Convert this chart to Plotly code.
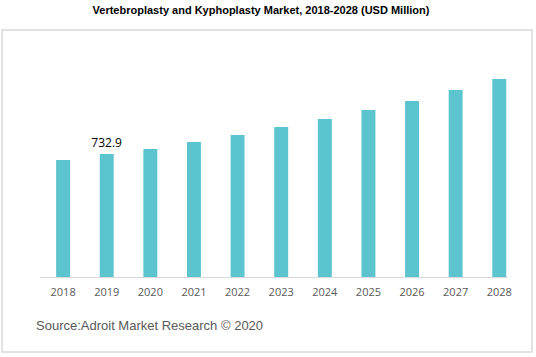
import plotly.graph_objects as go

years = ["2018", "2019", "2020", "2021", "2022", "2023", "2024", "2025", "2026", "2027", "2028"]
values = [697, 732.9, 763, 804, 846, 894, 942, 995, 1049, 1114, 1180]
labels = ["", "732.9", "", "", "", "", "", "", "", "", ""]

W, H = 536, 357
# plot area in pixels
x0, x1 = 40, 508
y0, y1 = 42, 277

fig = go.Figure(go.Bar(
    x=years, y=values, width=0.32,
    marker=dict(color="#5BC4CF", line=dict(width=0)),
    text=labels, textposition="outside", constraintext="none",
    textfont=dict(family="Open Sans, Arial", size=12, color="#000000"),
    cliponaxis=False, hoverinfo="skip",
))

fig.update_layout(
    width=W, height=H,
    margin=dict(l=x0, r=W - x1, t=y0, b=H - y1),
    paper_bgcolor="white", plot_bgcolor="white",
    showlegend=False,
    title=dict(text="<b>Vertebroplasty and Kyphoplasty Market, 2018-2028 (USD Million)</b>",
               x=261 / W, xanchor="center", y=1 - 10 / H, yanchor="middle",
               font=dict(family="Arial, Liberation Sans", size=11, color="#000000")),
    xaxis=dict(type="category", range=[-0.53, 10.2], showline=True, linecolor="#D9D9D9",
               linewidth=1, ticks="", showgrid=False, ticklabelstandoff=5,
               tickfont=dict(family="Open Sans, Arial", size=11, color="#595959")),
    yaxis=dict(range=[0, 1400], visible=False, showgrid=False),
    shapes=[dict(type="rect", xref="paper", yref="paper",
                 x0=(2 - x0) / (x1 - x0), x1=(532 - x0) / (x1 - x0),
                 y0=(y1 - 352) / (y1 - y0), y1=(y1 - 30) / (y1 - y0),
                 line=dict(color="#D9D9D9", width=1.5), layer="below")],
    annotations=[dict(text="Source:Adroit Market Research © 2020", xref="paper", yref="paper",
                      x=(34 - x0) / (x1 - x0), xanchor="left",
                      y=(y1 - 325) / (y1 - y0), yanchor="middle", showarrow=False,
                      font=dict(family="Arial, Liberation Sans", size=13, color="#595959"))],
)

fig.write_html("out.html", config={"displayModeBar": False},
               post_script="document.body.style.margin='0';")
